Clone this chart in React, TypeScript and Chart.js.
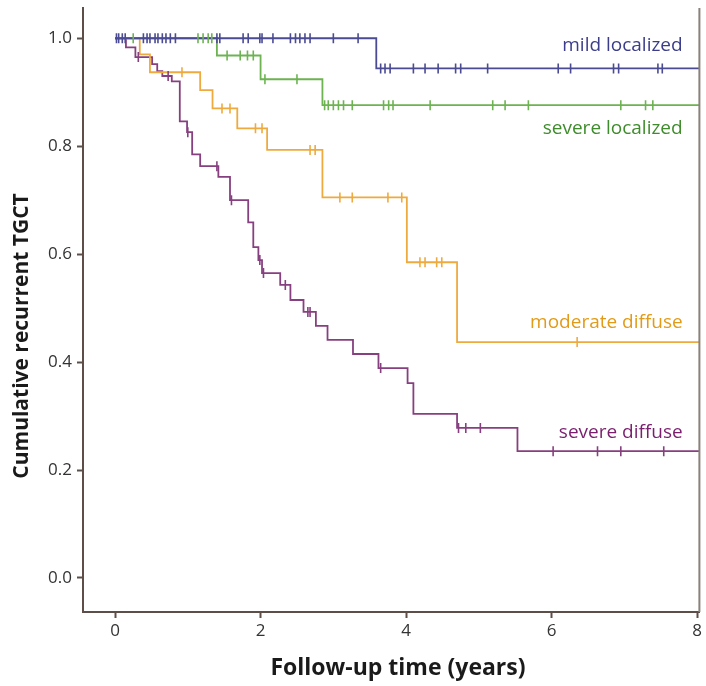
import React, { useEffect, useRef } from "react";
import { Chart, registerables } from "chart.js";

Chart.register(...registerables);

// ---- data ----
const xTicks = [0, 2, 4, 6, 8];
const yTicks = [0.0, 0.2, 0.4, 0.6, 0.8, 1.0];
const xTitle = "Follow-up time (years)";
const yTitle = "Cumulative recurrent TGCT";

const seriesNames = ["mild localized", "severe localized", "moderate diffuse", "severe diffuse"];

const mildTimes = [0, 3.59, 8.03];
const mildValues = [1.0, 0.944, 0.944];
const mildCensored = [0.02, 0.05, 0.1, 0.14, 0.39, 0.44, 0.48, 0.55, 0.59, 0.65, 0.7, 0.76, 0.83, 1.4, 1.44, 1.76, 1.83, 1.99, 2.02, 2.17, 2.41, 2.48, 2.54, 2.61, 2.68, 3.0, 3.34, 3.65, 3.71, 3.78, 4.1, 4.26, 4.44, 4.68, 4.75, 5.12, 6.09, 6.26, 6.85, 6.92, 7.46, 7.52];

const sevLocTimes = [0, 1.4, 2.0, 2.85, 8.03];
const sevLocValues = [1.0, 0.968, 0.924, 0.876, 0.876];
const sevLocCensored = [0.25, 1.14, 1.21, 1.28, 1.33, 1.54, 1.72, 1.82, 1.9, 2.06, 2.5, 2.88, 2.93, 3.0, 3.07, 3.14, 3.26, 3.69, 3.76, 3.82, 4.33, 5.19, 5.36, 5.68, 6.95, 7.29, 7.39];

const modDifTimes = [0, 0.34, 0.48, 1.17, 1.34, 1.68, 2.09, 2.85, 4.01, 4.7, 8.03];
const modDifValues = [1.0, 0.97, 0.937, 0.904, 0.87, 0.833, 0.793, 0.705, 0.585, 0.437, 0.437];
const modDifCensored = [0.92, 1.47, 1.58, 1.93, 2.02, 2.68, 2.75, 3.09, 3.26, 3.75, 3.94, 4.19, 4.26, 4.42, 4.49, 6.35];

const sevDifTimes = [0, 0.15, 0.28, 0.51, 0.58, 0.65, 0.78, 0.89, 0.99, 1.06, 1.17, 1.42, 1.58, 1.83, 1.9, 1.97, 2.02, 2.27, 2.41, 2.59, 2.76, 2.92, 3.27, 3.62, 4.02, 4.1, 4.7, 5.53, 8.03];
const sevDifValues = [1.0, 0.983, 0.965, 0.952, 0.939, 0.93, 0.92, 0.846, 0.826, 0.785, 0.763, 0.743, 0.7, 0.659, 0.613, 0.589, 0.565, 0.543, 0.515, 0.493, 0.467, 0.441, 0.415, 0.389, 0.361, 0.304, 0.278, 0.235, 0.235];
const sevDifCensored = [0.32, 0.73, 1.0, 1.4, 1.6, 1.99, 2.04, 2.34, 2.65, 2.68, 3.65, 4.72, 4.82, 5.02, 6.02, 6.63, 6.95, 7.54];

// ---- style ----
const lineColors = ["#4a4b92", "#6db352", "#eeaa3e", "#86407f"];
const labelColors = ["#3b3d8a", "#3f8c2c", "#e29b18", "#7a1f6e"];
const labelValues = [0.987, 0.833, 0.474, 0.27];
const FONT = "'Open Sans', sans-serif";
const AXIS = "#5e4e48";

function stepValue(times: number[], values: number[], t: number) {
  let v = values[0];
  for (let i = 0; i < times.length; i++) if (times[i] <= t) v = values[i];
  return v;
}

export default function App() {
  const ref = useRef<HTMLCanvasElement | null>(null);
  useEffect(() => {
    document.body.style.margin = "0";
    const series = [
      [mildTimes, mildValues, mildCensored],
      [sevLocTimes, sevLocValues, sevLocCensored],
      [modDifTimes, modDifValues, modDifCensored],
      [sevDifTimes, sevDifValues, sevDifCensored],
    ] as number[][][];

    const datasets: any[] = [];
    series.forEach(([times, values, cens], i) => {
      datasets.push({
        label: seriesNames[i],
        data: times.map((t, k) => ({ x: t, y: values[k] })),
        showLine: true,
        borderColor: lineColors[i],
        borderWidth: 1.8,
        stepped: "before",
        pointRadius: 0,
        fill: false,
        order: 2,
      });
      datasets.push({
        label: seriesNames[i] + " censored",
        data: cens.map((t) => ({ x: t, y: stepValue(times, values, t) })),
        showLine: false,
        pointStyle: "line",
        rotation: 90,
        pointRadius: 5,
        pointBorderWidth: 1.6,
        borderColor: lineColors[i],
        backgroundColor: lineColors[i],
        order: 1,
      });
    });

    const overlay = {
      id: "overlay",
      afterDraw(chart: any) {
        const { ctx, chartArea, scales } = chart;
        ctx.save();
        ctx.strokeStyle = "#8a807c";
        ctx.lineWidth = 2;
        ctx.beginPath();
        ctx.moveTo(chartArea.right, chartArea.top);
        ctx.lineTo(chartArea.right, chartArea.bottom);
        ctx.stroke();
        // series labels
        ctx.font = `19px ${FONT}`;
        ctx.textAlign = "right";
        ctx.textBaseline = "middle";
        seriesNames.forEach((name, i) => {
          ctx.fillStyle = labelColors[i];
          ctx.fillText(name, scales.x.getPixelForValue(7.8), scales.y.getPixelForValue(labelValues[i]));
        });
        // axis titles
        ctx.fillStyle = "#1a1a1a";
        ctx.textAlign = "center";
        ctx.font = `bold 23px ${FONT}`;
        ctx.fillText(xTitle, 398, 668);
        ctx.translate(22, 336);
        ctx.rotate(-Math.PI / 2);
        ctx.font = `bold 21px ${FONT}`;
        ctx.fillText(yTitle, 0, 0);
        ctx.restore();
      },
    };

    const chart = new Chart(ref.current as HTMLCanvasElement, {
      type: "scatter",
      data: { datasets },
      options: {
        animation: false,
        responsive: true,
        maintainAspectRatio: false,
        layout: { padding: { left: 0, right: 6, top: 8, bottom: 0 } },
        plugins: { legend: { display: false }, tooltip: { enabled: false } },
        scales: {
          x: {
            type: "linear",
            min: -0.44,
            max: 8.03,
            afterBuildTicks: (s: any) => {
              s.ticks = xTicks.map((v) => ({ value: v }));
            },
            afterFit: (s: any) => {
              s.height = 74;
              s.paddingLeft = 0;
              s.paddingRight = 0;
            },
            grid: { drawOnChartArea: false, drawTicks: true, tickLength: 6, tickColor: AXIS, tickWidth: 2 },
            border: { display: true, color: AXIS, width: 2 },
            ticks: { color: "#333", font: { family: FONT, size: 17 }, padding: 3, maxRotation: 0 },
            title: { display: false },
          },
          y: {
            type: "linear",
            min: -0.063,
            max: 1.056,
            afterBuildTicks: (s: any) => {
              s.ticks = yTicks.map((v) => ({ value: v }));
            },
            afterFit: (s: any) => {
              s.width = 83;
              s.paddingTop = 0;
              s.paddingBottom = 0;
            },
            grid: { drawOnChartArea: false, drawTicks: true, tickLength: 6, tickColor: AXIS, tickWidth: 2 },
            border: { display: true, color: AXIS, width: 2 },
            ticks: {
              color: "#333",
              font: { family: FONT, size: 17 },
              padding: 5,
              callback: (v: any) => Number(v).toFixed(1),
            },
            title: { display: false },
          },
        },
      },
      plugins: [overlay],
    });
    return () => chart.destroy();
  }, []);

  return (
    <div style={{ position: "relative", width: 706, height: 686 }}>
      <canvas ref={ref} />
    </div>
  );
}
